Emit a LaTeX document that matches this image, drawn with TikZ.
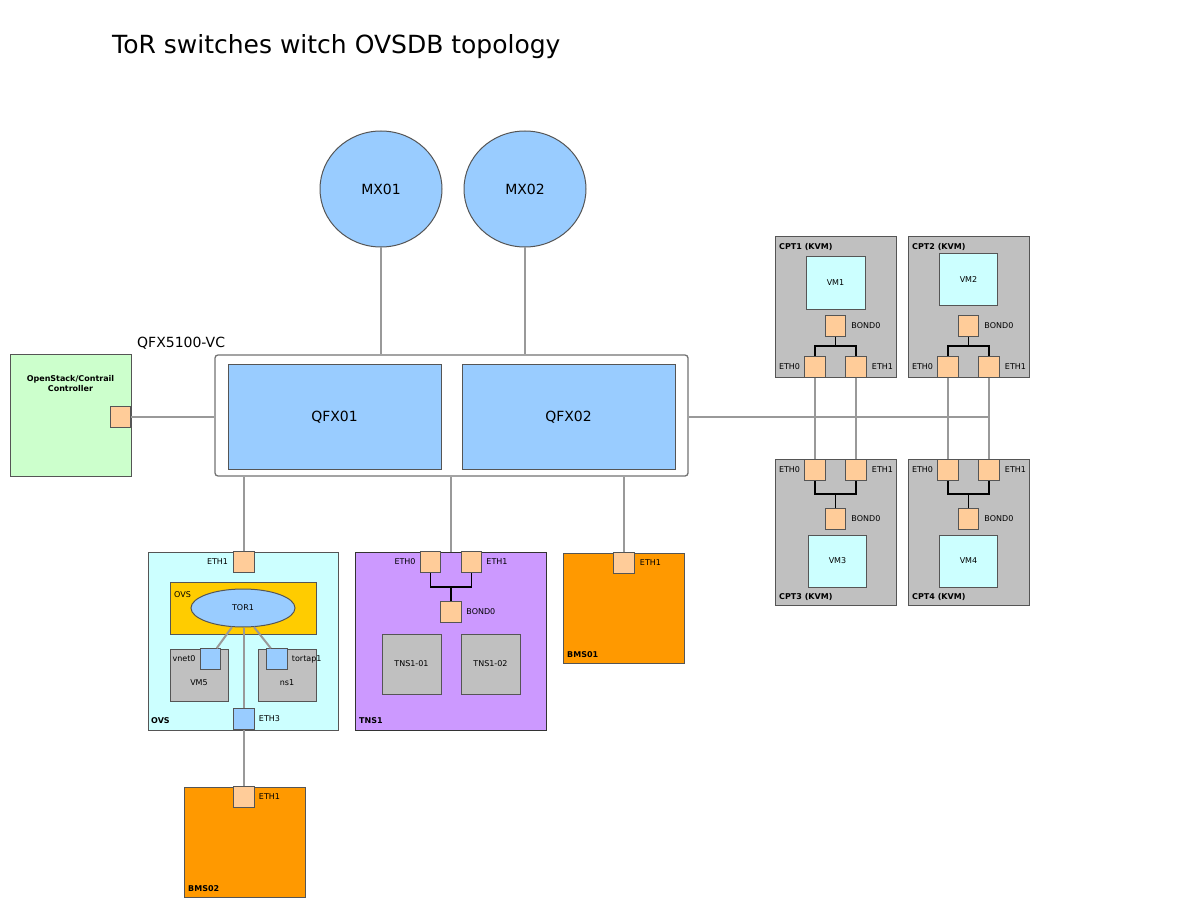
\documentclass[tikz,border=0pt]{standalone}
\usepackage{fontspec}
\setmainfont{DejaVu Sans}
\usetikzlibrary{positioning,shapes.geometric}
\definecolor{swblue}{HTML}{99CCFF}
\definecolor{portor}{HTML}{FFCC99}
\definecolor{ctrlgreen}{HTML}{CCFFCC}
\definecolor{vmcyan}{HTML}{CCFFFF}
\definecolor{ovsyellow}{HTML}{FFCC00}
\definecolor{hostgray}{HTML}{C0C0C0}
\definecolor{tnspurple}{HTML}{CC99FF}
\definecolor{bmsorange}{HTML}{FF9900}
\definecolor{wiregray}{HTML}{999999}
\definecolor{edgegray}{HTML}{555555}
\tikzset{
  box/.style={shape=rectangle,draw=edgegray,line width=1pt,inner sep=0pt},
  oval/.style={shape=ellipse,draw=edgegray,line width=1pt,fill=swblue,inner sep=0pt},
  port/.style={shape=rectangle,draw=edgegray,line width=1pt,fill=portor,minimum size=20.5pt,inner sep=0pt},
  vport/.style={port,fill=swblue},
  lbl/.style={font=\fontsize{8}{9.5}\selectfont,inner sep=1pt},
  tag/.style={font=\fontsize{8}{9.5}\selectfont\bfseries,inner sep=0pt,anchor=west},
  big/.style={font=\fontsize{14}{17}\selectfont},
  wire/.style={draw=wiregray,line width=2pt},
  bond/.style={draw=black,line width=1.6pt}
}
\begin{document}
\begin{tikzpicture}[x=1pt,y=-1pt]
  \useasboundingbox (0,0) rectangle (1200,909);
  \node[anchor=base west,inner sep=0pt,font=\fontsize{25}{30}\selectfont] (title) at (112,53.5) {ToR switches witch OVSDB topology};

  \node[oval,minimum width=122pt,minimum height=116pt,big] (MX1) at (381,189) {MX01};
  \node[oval,minimum width=122pt,minimum height=116pt,big] (MX2) at (525,189) {MX02};

  \node[anchor=west,inner sep=0pt,big] (vcl) at (137,343) {QFX5100-VC};
  \node[box,draw=black!55,line width=1.3pt,fill=white,rounded corners=3pt,minimum width=473pt,minimum height=121pt] (VC) at (451.5,415.5) {};
  \node[box,fill=swblue,minimum width=213pt,minimum height=104pt,big] (Q1) at (334.5,417) {QFX01};
  \node[box,fill=swblue,minimum width=213pt,minimum height=104pt,big] (Q2) at (568.5,417) {QFX02};

  \node[box,fill=ctrlgreen,minimum width=121pt,minimum height=121pt] (CC) at (70.5,415.5) {};
  \node[tag,anchor=center,align=center] (CCt) at (70.5,383.5) {OpenStack/Contrail\\Controller};
  \node[port] (CCp) at (120.5,417) {};

  \node[box,fill=vmcyan,minimum width=190pt,minimum height=178pt] (OVS) at (243,641) {};
  \node[box,fill=ovsyellow,minimum width=146pt,minimum height=52pt] (BR) at (243,608) {};
  \node[lbl,anchor=west] (BRl) at (173,595) {OVS};
  \node[oval,minimum width=104pt,minimum height=38pt,lbl] (TOR) at (243,608) {TOR1};
  \node[box,fill=hostgray,minimum width=58pt,minimum height=52pt] (VM5) at (199,675) {};
  \node[lbl] (VM5l) at (199,683) {VM5};
  \node[vport] (VN) at (210.5,659) {};
  \node[lbl,left=3pt of VN] (VNl) {vnet0};
  \node[box,fill=hostgray,minimum width=58pt,minimum height=52pt] (NS) at (287,675) {};
  \node[lbl] (NSl) at (287,683) {ns1};
  \node[vport] (TAP) at (277,659) {};
  \node[lbl,right=3pt of TAP] (TAPl) {tortap1};
  \node[port] (O1) at (244,562) {};
  \node[lbl,left=4pt of O1] (O1l) {ETH1};
  \node[vport] (E3) at (244,719) {};
  \node[lbl,right=3pt of E3] (E3l) {ETH3};
  \node[tag] (OVSt) at (151,721) {OVS};

  \node[box,draw=black!80,fill=tnspurple,minimum width=191pt,minimum height=178pt] (TNS) at (450.5,641) {};
  \node[port] (T0) at (430.5,562) {};
  \node[lbl,left=3pt of T0] (T0l) {ETH0};
  \node[port] (T1) at (471.5,562) {};
  \node[lbl,right=3pt of T1] (T1l) {ETH1};
  \node[port] (TB) at (451,612) {};
  \node[lbl,right=3.5pt of TB] (TBl) {BOND0};
  \node[box,fill=hostgray,minimum width=59pt,minimum height=60pt,lbl] (TN1) at (411.5,664) {TNS1-01};
  \node[box,fill=hostgray,minimum width=59pt,minimum height=60pt,lbl] (TN2) at (490.5,664) {TNS1-02};
  \node[tag] (TNSt) at (359,721) {TNS1};

  \node[box,fill=bmsorange,minimum width=121pt,minimum height=110pt] (BM1) at (623.5,608) {};
  \node[port] (B1p) at (624,563) {};
  \node[lbl,right=4pt of B1p] (B1l) {ETH1};
  \node[tag] (BM1t) at (567,655) {BMS01};

  \node[box,fill=bmsorange,minimum width=121pt,minimum height=110pt] (BM2) at (244.5,842) {};
  \node[port] (B2p) at (244,797) {};
  \node[lbl,right=3pt of B2p] (B2l) {ETH1};
  \node[tag] (BM2t) at (188,889) {BMS02};

  \node[box,fill=hostgray,minimum width=121pt,minimum height=141pt] (C1) at (835.5,307) {};
  \node[tag] (C1t) at (779,246.5) {CPT1 (KVM)};
  \node[box,fill=vmcyan,minimum width=59pt,minimum height=53pt,lbl] (V1) at (835.5,283) {VM1};
  \node[port] (C1b) at (835.5,326) {};
  \node[lbl,right=4pt of C1b] (C1bl) {BOND0};
  \node[port] (C1e0) at (815,367) {};
  \node[lbl,left=3pt of C1e0] (C1l0) {ETH0};
  \node[port] (C1e1) at (856,367) {};
  \node[lbl,right=4pt of C1e1] (C1l1) {ETH1};

  \node[box,fill=hostgray,minimum width=121pt,minimum height=141pt] (C2) at (968.5,307) {};
  \node[tag] (C2t) at (912,246.5) {CPT2 (KVM)};
  \node[box,fill=vmcyan,minimum width=58pt,minimum height=52pt,lbl] (V2) at (968.5,280) {VM2};
  \node[port] (C2b) at (968.5,326) {};
  \node[lbl,right=4pt of C2b] (C2bl) {BOND0};
  \node[port] (C2e0) at (948,367) {};
  \node[lbl,left=3pt of C2e0] (C2l0) {ETH0};
  \node[port] (C2e1) at (989,367) {};
  \node[lbl,right=4pt of C2e1] (C2l1) {ETH1};

  \node[box,fill=hostgray,minimum width=121pt,minimum height=146pt] (C3) at (835.5,532.5) {};
  \node[tag] (C3t) at (779,597) {CPT3 (KVM)};
  \node[box,fill=vmcyan,minimum width=58pt,minimum height=52pt,lbl] (V3) at (837.5,561) {VM3};
  \node[port] (C3b) at (835.5,519) {};
  \node[lbl,right=4pt of C3b] (C3bl) {BOND0};
  \node[port] (C3e0) at (815,470) {};
  \node[lbl,left=3pt of C3e0] (C3l0) {ETH0};
  \node[port] (C3e1) at (856,470) {};
  \node[lbl,right=4pt of C3e1] (C3l1) {ETH1};

  \node[box,fill=hostgray,minimum width=121pt,minimum height=146pt] (C4) at (968.5,532.5) {};
  \node[tag] (C4t) at (912,597) {CPT4 (KVM)};
  \node[box,fill=vmcyan,minimum width=58pt,minimum height=52pt,lbl] (V4) at (968.5,561) {VM4};
  \node[port] (C4b) at (968.5,519) {};
  \node[lbl,right=4pt of C4b] (C4bl) {BOND0};
  \node[port] (C4e0) at (948,470) {};
  \node[lbl,left=3pt of C4e0] (C4l0) {ETH0};
  \node[port] (C4e1) at (989,470) {};
  \node[lbl,right=4pt of C4e1] (C4l1) {ETH1};

  \draw[bond] (T0.south) -- ++(0,14) coordinate (tt) -| (T1.south);
  \draw[bond] (TB.north) -- (TB.north |- tt);
  \draw[bond] (C1e0.north) -- ++(0,-10) coordinate (c1) -| (C1e1.north);
  \draw[bond] (C1b.south) -- (C1b.south |- c1);
  \draw[bond] (C2e0.north) -- ++(0,-10) coordinate (c2) -| (C2e1.north);
  \draw[bond] (C2b.south) -- (C2b.south |- c2);
  \draw[bond] (C3e0.south) -- ++(0,13.5) coordinate (c3) -| (C3e1.south);
  \draw[bond] (C3b.north) -- (C3b.north |- c3);
  \draw[bond] (C4e0.south) -- ++(0,13.5) coordinate (c4) -| (C4e1.south);
  \draw[bond] (C4b.north) -- (C4b.north |- c4);

  \draw[wire] (MX1.south) -- (MX1.south |- VC.north);
  \draw[wire] (MX2.south) -- (MX2.south |- VC.north);
  \draw[wire] (CCp.east) -- (CCp.east -| VC.west);
  \draw[wire] (O1.north) -- (O1.north |- VC.south);
  \draw[wire] (TB.north |- TNS.north) -- (TB.north |- VC.south);
  \draw[wire] (B1p.north) -- (B1p.north |- VC.south);
  \draw[wire] (E3.north) -- (E3.north |- TOR.south);
  \draw[wire] (E3.south) -- (B2p.north);
  \draw[wire] (TOR.-120) -- (VN.60);
  \draw[wire] (TOR.-60) -- (TAP.120);
  \draw[wire] (C1e0.south) -- (C3e0.north);
  \draw[wire] (C1e1.south) -- (C3e1.north);
  \draw[wire] (C2e0.south) -- (C4e0.north);
  \draw[wire] (C2e1.south) -- (C4e1.north);
  \draw[wire] (Q2.east -| VC.east) -- (Q2.east -| C2e1.south);
\end{tikzpicture}
\end{document}
